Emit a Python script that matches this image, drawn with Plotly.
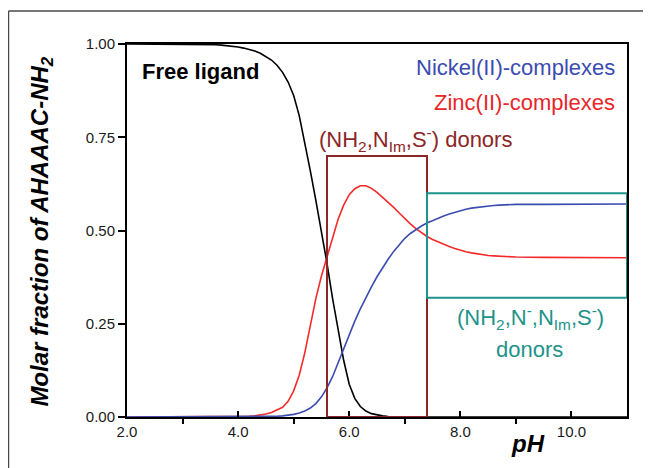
import plotly.graph_objects as go

# ---------------- data ----------------
ph = [2.0, 2.5, 3.0, 3.5,
      3.6, 3.7, 3.8, 3.9, 4.0, 4.1, 4.2, 4.3, 4.4, 4.5, 4.6, 4.7, 4.8, 4.9,
      5.0, 5.1, 5.2, 5.3, 5.4, 5.5, 5.6, 5.7, 5.8, 5.9,
      6.0, 6.1, 6.2, 6.3, 6.4, 6.5, 6.6, 6.7, 6.8, 6.9,
      7.0, 7.1, 7.2, 7.3, 7.4, 7.5, 7.6, 7.7, 7.8, 7.9,
      8.0, 8.1, 8.2, 8.3, 8.4, 8.5, 8.6, 8.7, 8.8, 8.9, 9.0,
      9.5, 10.0, 10.5, 11.0]

free_ligand = [1.0, 1.0, 1.0, 1.0,
               0.998, 0.997, 0.996, 0.994, 0.992, 0.989, 0.986, 0.981, 0.975, 0.967, 0.957, 0.943, 0.924, 0.898,
               0.862, 0.808, 0.737, 0.660, 0.580, 0.500, 0.412, 0.318, 0.232, 0.152,
               0.088, 0.050, 0.028, 0.016, 0.009, 0.005, 0.003, 0.001, 0.0, 0.0,
               0.0, 0.0, 0.0, 0.0, 0.0, 0.0, 0.0, 0.0, 0.0, 0.0,
               0.0, 0.0, 0.0, 0.0, 0.0, 0.0, 0.0, 0.0, 0.0, 0.0, 0.0,
               0.0, 0.0, 0.0, 0.0]

zinc = [0.0, 0.0, 0.0, 0.0,
        0.0, 0.0, 0.0, 0.0, 0.001, 0.001, 0.002, 0.003, 0.005, 0.008, 0.012, 0.018, 0.026, 0.042,
        0.070, 0.112, 0.172, 0.245, 0.318, 0.378, 0.430, 0.485, 0.530, 0.568,
        0.596, 0.612, 0.620, 0.620, 0.613, 0.602, 0.589, 0.576, 0.562, 0.547,
        0.532, 0.518, 0.505, 0.494, 0.484, 0.476, 0.469, 0.463, 0.457, 0.452,
        0.447, 0.443, 0.440, 0.437, 0.435, 0.433, 0.432, 0.431, 0.430, 0.429, 0.429,
        0.428, 0.428, 0.427, 0.427]

nickel = [0.0, 0.0, 0.0, 0.0,
          0.0, 0.0, 0.0, 0.0, 0.0, 0.0, 0.0, 0.0, 0.0, 0.001, 0.001, 0.002, 0.003, 0.005,
          0.007, 0.011, 0.016, 0.024, 0.036, 0.054, 0.078, 0.108, 0.145, 0.184,
          0.222, 0.257, 0.290, 0.321, 0.349, 0.376, 0.400, 0.423, 0.444, 0.463,
          0.479, 0.492, 0.503, 0.512, 0.520, 0.527, 0.533, 0.539, 0.544, 0.549,
          0.553, 0.557, 0.560, 0.562, 0.564, 0.566, 0.567, 0.568, 0.569, 0.569, 0.570,
          0.570, 0.571, 0.571, 0.571]

x_ticks = [2, 4, 6, 8, 10]
x_ticktext = ["2.0", "4.0", "6.0", "8.0", "10.0"]
x_minor = [3, 5, 7, 9, 11]
y_ticks = [0, 0.25, 0.5, 0.75, 1.0]
y_ticktext = ["0.00", "0.25", "0.50", "0.75", "1.00"]

# highlighted pH regions: [x0, x1, y0, y1]
box_nim = [5.6, 7.4, 0.0, 0.70]
box_amide = [7.4, 11.0, 0.32, 0.60]

# ---------------- styles ----------------
BLACK = "#000000"
RED = "#f42a2a"
BLUE = "#3b4cb0"
DARKRED = "#8b2727"
TEAL = "#1e938a"
FONT = "Liberation Sans, Arial, sans-serif"

fig = go.Figure()
fig.add_trace(go.Scatter(x=ph, y=free_ligand, mode="lines",
                         line=dict(color=BLACK, width=1.6), name="Free ligand"))
fig.add_trace(go.Scatter(x=ph, y=zinc, mode="lines",
                         line=dict(color=RED, width=1.6), name="Zinc(II)-complexes"))
fig.add_trace(go.Scatter(x=ph, y=nickel, mode="lines",
                         line=dict(color=BLUE, width=1.6), name="Nickel(II)-complexes"))

# boxes
fig.add_shape(type="rect", xref="x", yref="y",
              x0=box_nim[0], x1=box_nim[1], y0=box_nim[2], y1=box_nim[3],
              line=dict(color=DARKRED, width=2), fillcolor="rgba(0,0,0,0)")
fig.add_shape(type="rect", xref="x", yref="y",
              x0=box_amide[0], x1=box_amide[1], y0=box_amide[2], y1=box_amide[3],
              line=dict(color=TEAL, width=2), fillcolor="rgba(0,0,0,0)")

# outer frame (top and left lines only)
fig.add_shape(type="line", xref="paper", yref="paper", x0=-0.237, x1=1.06,
              y0=1.0885, y1=1.0885, line=dict(color="#4a4a4a", width=1.5))
fig.add_shape(type="line", xref="paper", yref="paper", x0=-0.237, x1=-0.237,
              y0=1.0885, y1=-0.2, line=dict(color="#4a4a4a", width=1.5))

ann = []
ann.append(dict(text="<b>Free ligand</b>", x=0.025, y=0.925, xref="paper", yref="paper",
                xanchor="left", yanchor="middle", showarrow=False,
                font=dict(family=FONT, size=22, color=BLACK)))
ann.append(dict(text="Nickel(II)-complexes", x=0.98, y=0.936, xref="paper", yref="paper",
                xanchor="right", yanchor="middle", showarrow=False,
                font=dict(family=FONT, size=22, color=BLUE)))
ann.append(dict(text="Zinc(II)-complexes", x=0.98, y=0.843, xref="paper", yref="paper",
                xanchor="right", yanchor="middle", showarrow=False,
                font=dict(family=FONT, size=22, color="#e8262a")))
ann.append(dict(text="(NH<sub>2</sub>,N<sub>Im</sub>,S<sup>-</sup>) donors", x=0.576, y=0.745,
                xref="paper", yref="paper", xanchor="center", yanchor="middle", showarrow=False,
                font=dict(family=FONT, size=22, color=DARKRED)))
ann.append(dict(text="(NH<sub>2</sub>,N<sup>-</sup>,N<sub>Im</sub>,S<sup>-</sup>)", x=0.806, y=0.268,
                xref="paper", yref="paper", xanchor="center", yanchor="middle", showarrow=False,
                font=dict(family=FONT, size=22, color=TEAL)))
ann.append(dict(text="donors", x=0.805, y=0.182,
                xref="paper", yref="paper", xanchor="center", yanchor="middle", showarrow=False,
                font=dict(family=FONT, size=22, color=TEAL)))
ann.append(dict(text="<b><i>Molar fraction of AHAAAC-NH<sub>2</sub></i></b>", x=-0.17, y=0.497,
                xref="paper", yref="paper", xanchor="center", yanchor="middle", showarrow=False,
                textangle=-90, font=dict(family=FONT, size=24, color=BLACK)))
ann.append(dict(text="<b><i>pH</i></b>", x=0.802, y=-0.072,
                xref="paper", yref="paper", xanchor="center", yanchor="middle", showarrow=False,
                font=dict(family=FONT, size=24, color=BLACK)))

# the page body adds an 8px margin, so the figure is 8px smaller than the window
fig.update_layout(
    width=643, height=460,
    margin=dict(l=119, r=24, t=36, b=51),
    paper_bgcolor="white", plot_bgcolor="white",
    showlegend=False,
    annotations=ann,
    font=dict(family=FONT, size=15, color="#1a1a1a"),
    xaxis=dict(range=[2, 11], tickvals=x_ticks, ticktext=x_ticktext,
               ticks="inside", ticklen=6, tickwidth=1.5, tickcolor=BLACK,
               showline=True, linecolor=BLACK, linewidth=2, mirror=True,
               showgrid=False, zeroline=False,
               tickfont=dict(family=FONT, size=15, color="#1a1a1a"),
               minor=dict(tickvals=x_minor, ticks="outside", ticklen=5,
                          tickwidth=1.5, tickcolor=BLACK, showgrid=False)),
    yaxis=dict(range=[0, 1], tickvals=y_ticks, ticktext=y_ticktext,
               ticks="outside", ticklen=7, tickwidth=1.5, tickcolor=BLACK,
               showline=True, linecolor=BLACK, linewidth=2, mirror=True,
               showgrid=False, zeroline=False,
               tickfont=dict(family=FONT, size=15, color="#1a1a1a")),
)

fig.write_html("out.html")
